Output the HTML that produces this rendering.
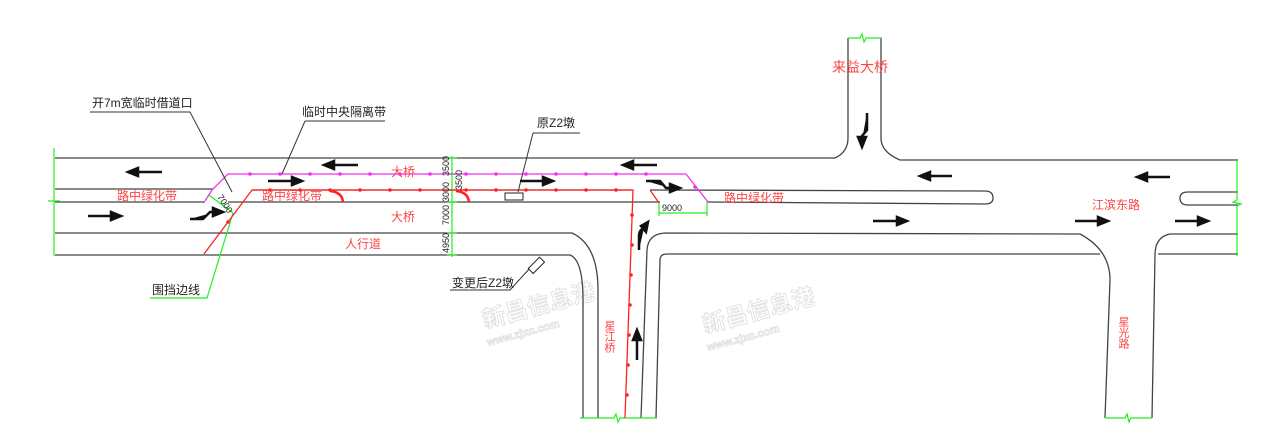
<!DOCTYPE html>
<html><head><meta charset="utf-8"><style>
html,body{margin:0;padding:0;background:#fff;width:1280px;height:428px;overflow:hidden}
svg{display:block}
.t{font-family:"Liberation Sans","Noto Sans CJK SC",sans-serif}
</style></head><body>
<svg width="1280" height="428" viewBox="0 0 1280 428" xmlns="http://www.w3.org/2000/svg">
<defs>
<marker id="dm" viewBox="0 0 4 4" refX="2" refY="2" markerWidth="4" markerHeight="4"><circle cx="2" cy="2" r="1.6" fill="#e3e"/></marker>
</defs>
<!-- watermarks -->
<g class="t" fill="none" stroke="#ddd" stroke-width="0.8" font-weight="bold">
<text x="485" y="328" font-size="23" transform="rotate(-15 485 328)">新昌信息港</text>
<text x="488" y="346" font-size="11" transform="rotate(-15 488 346)">www.zjxc.com</text>
<text x="705" y="333" font-size="23" transform="rotate(-15 705 333)">新昌信息港</text>
<text x="708" y="351" font-size="11" transform="rotate(-15 708 351)">www.zjxc.com</text>
</g>
<g fill="none" stroke="#444" stroke-width="1.3">
<path d="M55,158 L835,158 Q848,152 848,138 L848,38"/>
<path d="M881,38 L881,138 Q881,152 900,160 L1238,160"/>
<path d="M55,189 L213,189 M55,202 L205,202"/>
<path d="M252,190 L632,190 M228,202 L660,202"/>
<path d="M650,190 L985,191 Q993,191 993,198 Q993,204 985,204 L707,202"/>
<path d="M1238,192 L1188,192 Q1180,192 1180,198 Q1180,205 1188,205 L1238,205"/>
<path d="M55,233 L572,233 Q598,245 598,290 L598,418"/>
<path d="M55,255 L570,255 Q583,260 583,300 L583,418"/>
<path d="M641,418 L647,250 Q648,234 665,233 L1080,234 Q1110,250 1110,280 L1105,418"/>
<path d="M656,418 L660,260 Q660,254 667,254 L1100,254"/>
<path d="M1152,418 L1155,255 Q1155,237 1170,234 L1238,234 M1158,254 L1238,254"/>
</g>
<g fill="none" stroke="#2e2" stroke-width="1.2">
<path d="M54,148 L54,256 M48,201 L60,201"/>
<path d="M452,156 L452,257 M447,158 L457,158 M447,174 L457,174 M447,190 L457,190 M447,202 L457,202 M447,233 L457,233 M447,255 L457,255"/>
<path d="M848,38 L860,38 L862,34 L864,42 L866,38 L882,38"/>
<path d="M1237,160 L1237,200 L1233,202 L1241,204 L1237,206 L1237,256"/>
<path d="M580,418 L614,418 L616,414 L618,422 L620,418 L657,418"/>
<path d="M1105,418 L1125,418 L1127,414 L1129,422 L1131,418 L1152,418"/>
<path d="M659,202 L659,216 M707,202 L707,216 M659,213 L707,213"/>
<path d="M209,195 L233,213 M233,213 L207,298 L150,298"/>
</g>
<polyline points="205,201 212,190 228,174 686,174 708,202" fill="none" stroke="#e3e" stroke-width="1.3"/>
<g fill="#e3e"><circle cx="250" cy="174" r="1.8"/><circle cx="280" cy="174" r="1.8"/><circle cx="310" cy="174" r="1.8"/><circle cx="340" cy="174" r="1.8"/><circle cx="370" cy="174" r="1.8"/><circle cx="400" cy="174" r="1.8"/><circle cx="430" cy="174" r="1.8"/><circle cx="466" cy="174" r="1.8"/><circle cx="496" cy="174" r="1.8"/><circle cx="526" cy="174" r="1.8"/><circle cx="556" cy="174" r="1.8"/><circle cx="586" cy="174" r="1.8"/><circle cx="616" cy="174" r="1.8"/><circle cx="646" cy="174" r="1.8"/><circle cx="695" cy="187" r="1.8"/></g>
<polyline points="204,254 252,190 633,190 625,418" fill="none" stroke="#f22" stroke-width="1.3"/>
<path d="M650,190 L659,203" stroke="#f22" stroke-width="1.3"/>
<g fill="#f22"><circle cx="228" cy="222" r="1.8"/><circle cx="270" cy="190" r="1.8"/><circle cx="300" cy="190" r="1.8"/><circle cx="330" cy="190" r="1.8"/><circle cx="360" cy="190" r="1.8"/><circle cx="390" cy="190" r="1.8"/><circle cx="420" cy="190" r="1.8"/><circle cx="466" cy="190" r="1.8"/><circle cx="496" cy="190" r="1.8"/><circle cx="526" cy="190" r="1.8"/><circle cx="556" cy="190" r="1.8"/><circle cx="586" cy="190" r="1.8"/><circle cx="616" cy="190" r="1.8"/>
<circle cx="632" cy="215" r="1.8"/><circle cx="632" cy="245" r="1.8"/><circle cx="631" cy="275" r="1.8"/><circle cx="630" cy="305" r="1.8"/><circle cx="629" cy="335" r="1.8"/><circle cx="628" cy="365" r="1.8"/><circle cx="627" cy="395" r="1.8"/></g>
<path d="M330,191 Q342,192 343,202 M456,191 Q468,192 469,202" fill="none" stroke="#f22" stroke-width="2.5"/>
<g fill="none" stroke="#333" stroke-width="1">
<path d="M90,112 L190,112 L232,192"/>
<path d="M305,121 L385,121 M305,121 L282,174"/>
<path d="M533,133 L580,133 M533,133 L518,192"/>
<path d="M450,290 L510,290 L530,268"/>
</g>
<rect x="505" y="193" width="18" height="7" fill="#fff" stroke="#222"/>
<rect x="528" y="262" width="16" height="7" fill="#fff" stroke="#222" transform="rotate(-45 536 265)"/>
<g stroke="#111" stroke-width="2.5" fill="#111">
<path d="M137,172 L162,172"/><path d="M128,172 L138,168 L138,176Z"/>
<path d="M88,216 L112,216"/><path d="M121,216 L111,212 L111,220Z"/>
<path d="M268,181 L292,181"/><path d="M302,181 L292,177 L292,185Z"/>
<path d="M334,165 L358,165"/><path d="M324,165 L334,161 L334,169Z"/>
<path d="M520,181 L544,181"/><path d="M553,181 L543,177 L543,185Z"/>
<path d="M633,165 L657,165"/><path d="M623,165 L633,161 L633,169Z"/>
<path d="M930,176 L952,176"/><path d="M920,176 L930,172 L930,180Z"/>
<path d="M1147,177 L1170,177"/><path d="M1137,177 L1147,173 L1147,181Z"/>
<path d="M873,221 L897,221"/><path d="M907,221 L897,217 L897,225Z"/>
<path d="M1075,221 L1099,221"/><path d="M1108,221 L1098,217 L1098,225Z"/>
<path d="M1175,221 L1199,221"/><path d="M1208,221 L1198,217 L1198,225Z"/>
<path d="M190,219 L203,219 L210,212 L215,212"/><path d="M223,212 L213,208 L213,216Z"/>
<path d="M646,181 L660,181 L666,188 L670,188"/><path d="M680,188 L670,184 L670,192Z"/>
<path d="M639,250 L639,236 Q639,230 644,228"/><path d="M648,222 L641,226 L646,232Z"/>
<path d="M637,360 L637,340"/><path d="M637,330 L633,340 L641,340Z"/>
<path d="M867,113 L867,130 L862,136 L862,140"/><path d="M862,147 L858,137 L866,137Z"/>
</g>
<g class="t" fill="#222" font-size="12">
<text x="92" y="107">开7m宽临时借道口</text>
<text x="302" y="116">临时中央隔离带</text>
<text x="537" y="127">原Z2墩</text>
<text x="452" y="287">变更后Z2墩</text>
<text x="152" y="294">围挡边线</text>
</g>
<g class="t" fill="#222" font-size="9">
<text x="662" y="211">9000</text>
<text transform="translate(217,197) rotate(57)">7000</text>
<text transform="translate(449,176) rotate(-90)">3500</text>
<text transform="translate(462,190) rotate(-90)">3500</text>
<text transform="translate(449,202) rotate(-90)">3000</text>
<text transform="translate(449,225) rotate(-90)">7000</text>
<text transform="translate(449,253) rotate(-90)">4950</text>
</g>
<g class="t" fill="#f44" font-size="12">
<text x="117" y="200">路中绿化带</text>
<text x="262" y="200">路中绿化带</text>
<text x="724" y="202">路中绿化带</text>
<text x="391" y="176">大桥</text>
<text x="391" y="221">大桥</text>
<text x="345" y="248">人行道</text>
<text x="1092" y="209">江滨东路</text>
<text x="832" y="72" font-size="14">来益大桥</text>
<text x="609" y="320" font-size="11" writing-mode="tb">星江桥</text>
<text x="1123" y="316" font-size="11" writing-mode="tb">星光路</text>
</g>
</svg>
</body></html>
